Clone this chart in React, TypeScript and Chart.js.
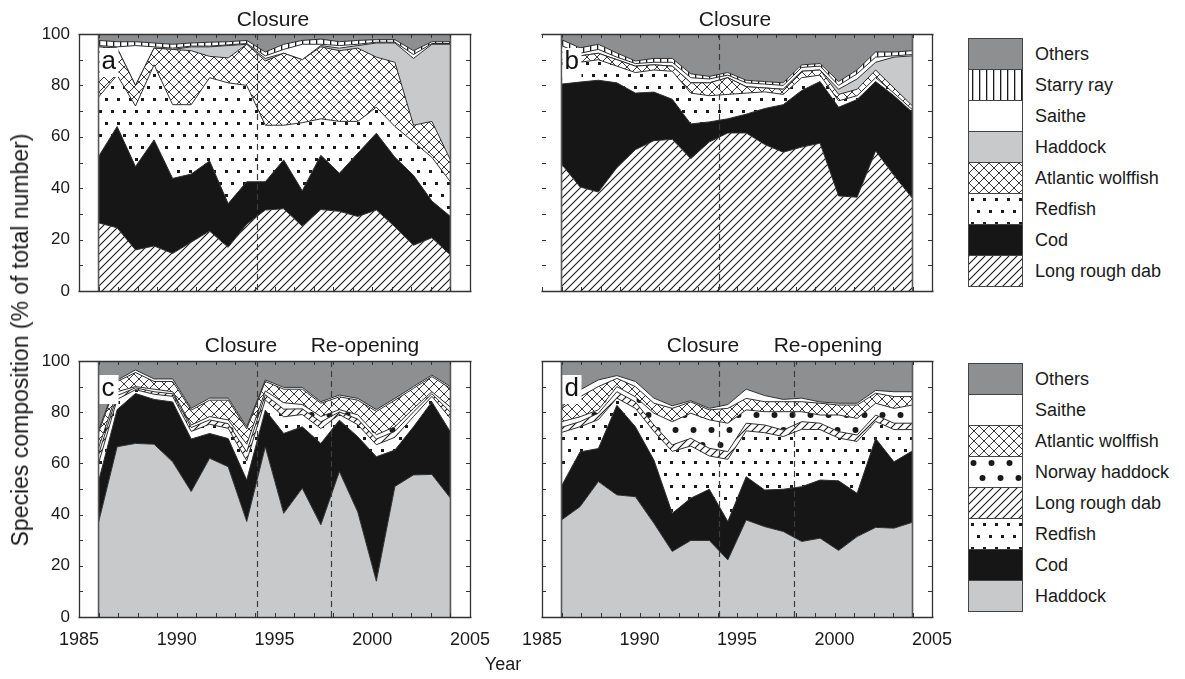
import React, { useEffect, useRef } from "react";
import { Chart, registerables } from "chart.js";

Chart.register(...registerables);

const FONT = "'Liberation Sans', Arial, Helvetica, sans-serif";

// Survey positions on the year axis, shared by all four panels
const surveyYears = [
  1986.0, 1986.95, 1987.89, 1988.84, 1989.79, 1990.74, 1991.68, 1992.63, 1993.58, 1994.53,
  1995.47, 1996.42, 1997.37, 1998.32, 1999.26, 2000.21, 2001.16, 2002.11, 2003.05, 2004.0,
];

const closureYear = 1994.1;
const reopeningYear = 1997.9;

const yTickValues = [0, 20, 40, 60, 80, 100];
const xTickValues = [1985, 1990, 1995, 2000, 2005];

// ---- Panel a (% of total number) ----
const aLongRoughDab = [26.5, 24.6, 16, 17.5, 14.6, 19, 23.3, 17, 26, 31.5, 32, 25.2, 31.7, 31, 29, 31.5, 25, 17.8, 20.7, 14];
const aCod = [25.8, 39.4, 32.4, 41.3, 29.2, 26.5, 27.3, 17, 16.5, 11, 19, 13.8, 21.1, 14.8, 24.6, 29.9, 27, 27.2, 14.3, 15];
const aRedfish = [23.2, 20, 23.6, 29.2, 28.7, 27, 32.4, 47, 37.5, 22, 13.5, 26.5, 14.2, 20.2, 12.4, 10.1, 12, 13, 17, 13.5];
const aWolffish = [19.5, 10.5, 8, 6.5, 21.5, 21, 8.3, 9.7, 16, 25, 28, 24.5, 28, 27.5, 28.5, 19.5, 25, 6.5, 14, 8.5];
const aHaddock = [0, 0, 0, 0, 0, 1.5, 3.7, 4.8, 0, 1, 0, 0, 0.5, 1, 1, 5.5, 7.5, 26, 30, 45];
const aSaithe = [0.5, 0.5, 15.5, 0.5, 0.5, 0.3, 0.3, 0.3, 0.3, 1, 1.5, 6, 0.5, 1, 0.5, 0.3, 0.3, 1.5, 0.3, 0.3];
const aStarryRay = [2, 2, 1.5, 1.5, 1.5, 1.2, 1.5, 1.2, 1.2, 1.5, 2, 1.5, 2, 1.5, 1.5, 1, 1, 1.5, 0.7, 0.7];
const aOthers = [2.5, 3, 3, 3.5, 4, 3.5, 3.2, 3, 2.5, 7, 4, 2.5, 2, 3, 2.5, 2.2, 2.2, 6.5, 3, 3];

// ---- Panel b ----
const bLongRoughDab = [49.4, 40.5, 38.5, 48, 55, 58.5, 59, 51.5, 58, 61.5, 61.5, 57, 54, 56, 57.5, 37, 36.5, 54.5, 45, 36];
const bCod = [31.1, 40.8, 43.5, 33, 22, 18.9, 15.6, 13.5, 7.8, 5.5, 7.3, 14, 18.5, 22, 24, 34.5, 38, 27, 31, 33.5];
const bRedfish = [9.5, 7.7, 8, 6.5, 8, 8.6, 10.9, 12, 10.2, 9.5, 8.2, 6.5, 4, 5, 2.5, 2.5, 1.5, 1.5, 1, 1];
const bWolffish = [3, 2.5, 2.5, 2.5, 2.5, 2, 2, 4, 5, 6.5, 2.5, 1.5, 2, 2.5, 2, 2.5, 2.5, 3, 2, 1.5];
const bHaddock = [0, 0, 0, 0, 0, 0, 0, 0, 0, 0, 0, 0, 0, 0, 0, 2, 4, 3, 12, 19.5];
const bSaithe = [2.5, 1, 1.5, 1, 1, 1, 1.5, 2, 1.5, 1, 1.5, 1.5, 1.5, 1.5, 1.5, 1.5, 2, 2, 0.5, 0.5];
const bStarryRay = [2.3, 2.1, 2, 1.6, 1, 1.5, 1.5, 1.5, 1, 1, 1, 1, 1, 1, 1, 1.5, 1.5, 2, 1.5, 1.5];
const bOthers = [2.2, 5.4, 4, 7.4, 10.5, 9.5, 9.5, 15.5, 16.5, 15, 18, 18.5, 19, 12, 11.5, 18.5, 14, 7, 7, 6.5];

// ---- Panel c ----
const cHaddock = [37, 66.5, 67.8, 67.5, 60.6, 49, 62, 58.7, 37.3, 66.5, 40.5, 50.3, 36, 56.8, 41, 14, 51, 55.5, 55.7, 46.4];
const cCod = [16, 14.5, 19.5, 17.5, 23.4, 20.5, 9.7, 11, 16.2, 14.3, 31.2, 24, 31.8, 20.1, 29.4, 48.6, 14.2, 18.8, 28.3, 25.9];
const cRedfish = [7, 4, 1.5, 2, 2.2, 3, 3.6, 4, 7.5, 4, 6.5, 4.8, 5.8, 2.2, 4.7, 4.7, 5, 4, 2.2, 5.3];
const cLongRoughDab = [3.5, 1.5, 0.7, 1, 1, 1.5, 1.7, 1.8, 3.5, 2, 3, 2.2, 2.6, 1, 2.2, 2.2, 2.3, 1.8, 1, 2.4];
const cNorwayHaddock = [2.5, 1.5, 0.5, 1, 0.8, 1, 1.3, 1.5, 3, 1.5, 2.5, 1.7, 2.1, 0.9, 1.7, 1.7, 1.8, 1.4, 0.8, 2];
const cWolffish = [6, 4, 5.5, 3, 4, 5.8, 6.4, 7.7, 6, 3.7, 5.3, 6, 5.2, 5, 5.7, 9.1, 10.4, 7.8, 5.9, 7.3];
const cSaithe = [1, 0.5, 1, 1, 1, 0.7, 0.8, 0.8, 0.8, 0.6, 0.7, 0.7, 0.6, 0.7, 0.7, 0.7, 0.7, 0.7, 0.6, 0.7];
const cOthers = [27, 7.5, 3.5, 7, 7, 18.5, 14.5, 14.5, 25.7, 7.4, 10.3, 10.3, 15.9, 13.3, 14.6, 19, 14.6, 10, 5.5, 10];

// ---- Panel d ----
const dHaddock = [37.9, 43.1, 52.9, 47.7, 47, 36.6, 25.6, 29.9, 29.9, 22.3, 37.9, 35.3, 33.4, 29.5, 30.8, 26, 31.4, 35, 34.7, 37];
const dCod = [13.3, 21.4, 12.9, 35, 27.3, 24.7, 14.9, 16.5, 20, 15, 16.9, 14.3, 16.5, 21.4, 22.7, 27.2, 16.9, 34.7, 25.9, 27.9];
const dRedfish = [20.9, 9.8, 11.3, 2.8, 7.2, 11.2, 24.2, 20.4, 13, 24.3, 17.9, 22.4, 20.6, 22.4, 19.7, 16.7, 20.3, 6.7, 12.6, 8.3];
const dLongRoughDab = [2, 2, 2.5, 2.5, 2.5, 2.5, 2.5, 3, 3, 3, 3, 3, 2.5, 3, 2.5, 2.5, 2.5, 2.5, 2.5, 2.5];
const dNorwayHaddock = [2.2, 1.9, 1.3, 2, 2, 4.6, 9.1, 9.8, 11.1, 11.1, 5.2, 5.2, 7.2, 3.9, 3.2, 6.5, 6.5, 4.6, 5.8, 7.1];
const dWolffish = [5.2, 7.8, 9.1, 3.2, 4, 3.9, 5.2, 4.4, 3.9, 5.8, 4.5, 3.9, 3.9, 3.9, 4.6, 3.9, 5.2, 3.9, 4.6, 3.3];
const dSaithe = [0.5, 2.7, 2.6, 1.1, 2, 2, 1, 0.5, 0.6, 1.5, 3.6, 2.4, 0.9, 1.4, 0.5, 0.7, 0.7, 1.1, 1.9, 1.9];
const dOthers = [18, 11.3, 7.4, 5.7, 8, 14.5, 17.5, 15.5, 18.5, 17, 11, 13.5, 15, 14.5, 16, 16.5, 16.5, 11.5, 12, 12];

// Legend order, top to bottom
const legendTop = ["Others", "Starry ray", "Saithe", "Haddock", "Atlantic wolffish", "Redfish", "Cod", "Long rough dab"];
const legendBottom = ["Others", "Saithe", "Atlantic wolffish", "Norway haddock", "Long rough dab", "Redfish", "Cod", "Haddock"];

type Layer = { name: string; values: number[] };
type PanelSpec = {
  letter: string;
  left: number;
  top: number;
  width: number;
  height: number;
  layers: Layer[];
  yLabels: boolean;
  xLabels: boolean;
  leftFrame: boolean;
  events: number[];
};

const PAD = { left: 60, top: 12, right: 24, bottom: 40 };

const panels: PanelSpec[] = [
  {
    letter: "a", left: 79, top: 34, width: 391, height: 257, yLabels: true, xLabels: false, leftFrame: true,
    events: [closureYear],
    layers: [
      { name: "Long rough dab", values: aLongRoughDab },
      { name: "Cod", values: aCod },
      { name: "Redfish", values: aRedfish },
      { name: "Atlantic wolffish", values: aWolffish },
      { name: "Haddock", values: aHaddock },
      { name: "Saithe", values: aSaithe },
      { name: "Starry ray", values: aStarryRay },
      { name: "Others", values: aOthers },
    ],
  },
  {
    letter: "b", left: 542, top: 34, width: 390, height: 257, yLabels: false, xLabels: false, leftFrame: false,
    events: [closureYear],
    layers: [
      { name: "Long rough dab", values: bLongRoughDab },
      { name: "Cod", values: bCod },
      { name: "Redfish", values: bRedfish },
      { name: "Atlantic wolffish", values: bWolffish },
      { name: "Haddock", values: bHaddock },
      { name: "Saithe", values: bSaithe },
      { name: "Starry ray", values: bStarryRay },
      { name: "Others", values: bOthers },
    ],
  },
  {
    letter: "c", left: 79, top: 361, width: 391, height: 256, yLabels: true, xLabels: true, leftFrame: true,
    events: [closureYear, reopeningYear],
    layers: [
      { name: "Haddock", values: cHaddock },
      { name: "Cod", values: cCod },
      { name: "Redfish", values: cRedfish },
      { name: "Long rough dab", values: cLongRoughDab },
      { name: "Norway haddock", values: cNorwayHaddock },
      { name: "Atlantic wolffish", values: cWolffish },
      { name: "Saithe", values: cSaithe },
      { name: "Others", values: cOthers },
    ],
  },
  {
    letter: "d", left: 542, top: 361, width: 390, height: 256, yLabels: false, xLabels: true, leftFrame: true,
    events: [closureYear, reopeningYear],
    layers: [
      { name: "Haddock", values: dHaddock },
      { name: "Cod", values: dCod },
      { name: "Redfish", values: dRedfish },
      { name: "Long rough dab", values: dLongRoughDab },
      { name: "Norway haddock", values: dNorwayHaddock },
      { name: "Atlantic wolffish", values: dWolffish },
      { name: "Saithe", values: dSaithe },
      { name: "Others", values: dOthers },
    ],
  },
];

// ---- Fill styles (solid greys and monochrome patterns) ----
function tile(w: number, h: number, draw: (g: CanvasRenderingContext2D) => void): CanvasPattern {
  const c = document.createElement("canvas");
  c.width = w;
  c.height = h;
  const g = c.getContext("2d")!;
  g.fillStyle = "#ffffff";
  g.fillRect(0, 0, w, h);
  draw(g);
  return g.createPattern(c, "repeat")!;
}

const fillCache: Record<string, string | CanvasPattern> = {};

function buildFill(name: string): string | CanvasPattern {
  if (fillCache[name]) return fillCache[name];
  let f: string | CanvasPattern = "#ffffff";
  switch (name) {
    case "Others":
      f = "#8e8f91";
      break;
    case "Saithe":
      f = "#ffffff";
      break;
    case "Haddock":
      f = "#c8c9cb";
      break;
    case "Cod":
      f = "#161616";
      break;
    case "Long rough dab":
      f = tile(8, 8, (g) => {
        g.strokeStyle = "#1a1a1a";
        g.lineWidth = 1.1;
        g.beginPath();
        g.moveTo(-1, 9); g.lineTo(9, -1);
        g.moveTo(-1, 1); g.lineTo(1, -1);
        g.moveTo(7, 9); g.lineTo(9, 7);
        g.stroke();
      });
      break;
    case "Atlantic wolffish":
      f = tile(10, 10, (g) => {
        g.strokeStyle = "#3a3a3a";
        g.lineWidth = 1;
        g.beginPath();
        g.moveTo(0, 0); g.lineTo(10, 10);
        g.moveTo(0, 10); g.lineTo(10, 0);
        g.stroke();
      });
      break;
    case "Redfish":
      f = tile(12, 24, (g) => {
        g.fillStyle = "#1a1a1a";
        g.fillRect(2, 4, 3, 3);
        g.fillRect(8, 16, 3, 3);
      });
      break;
    case "Norway haddock":
      f = tile(18, 30, (g) => {
        g.fillStyle = "#1a1a1a";
        g.beginPath();
        g.arc(4.5, 6, 3, 0, Math.PI * 2);
        g.arc(13.5, 21, 3, 0, Math.PI * 2);
        g.fill();
      });
      break;
    case "Starry ray":
      f = tile(7, 4, (g) => {
        g.fillStyle = "#1a1a1a";
        g.fillRect(3, 0, 1.3, 4);
      });
      break;
  }
  fillCache[name] = f;
  return f;
}

// ---- Frame, inward ticks, edge lines, event lines and panel letter ----
function decorations(spec: PanelSpec) {
  return {
    id: "decor" + spec.letter,
    afterDatasetsDraw(chart: any) {
      const { ctx, chartArea: a, scales } = chart;
      const xs = scales.x;
      const ys = scales.y;
      const seg = (x1: number, y1: number, x2: number, y2: number) => {
        ctx.beginPath();
        ctx.moveTo(x1, y1);
        ctx.lineTo(x2, y2);
        ctx.stroke();
      };
      const r = (v: number) => Math.round(v) + 0.5;
      ctx.save();

      // outer edges of the stacked areas
      ctx.strokeStyle = "#585858";
      ctx.lineWidth = 1.6;
      for (const yr of [surveyYears[0], surveyYears[surveyYears.length - 1]]) {
        const px = xs.getPixelForValue(yr);
        seg(px, a.top, px, a.bottom);
      }

      // management events
      ctx.strokeStyle = "#3c3c3c";
      ctx.lineWidth = 1.2;
      ctx.setLineDash([6, 4]);
      for (const ev of spec.events) {
        const px = r(xs.getPixelForValue(ev));
        seg(px, a.top, px, a.bottom);
      }
      ctx.setLineDash([]);

      // inward tick marks
      ctx.strokeStyle = "#333333";
      ctx.lineWidth = 1;
      for (let v = 0; v <= 100; v += 10) {
        const py = r(ys.getPixelForValue(v));
        seg(a.left, py, a.left + 4, py);
        seg(a.right - 4, py, a.right, py);
      }
      for (let yr = 1985; yr <= 2005; yr++) {
        const px = r(xs.getPixelForValue(yr));
        seg(px, a.top, px, a.top + 4);
        seg(px, a.bottom - 4, px, a.bottom);
      }

      // frame
      ctx.strokeStyle = "#333333";
      ctx.lineWidth = 1.3;
      const L = r(a.left), R = r(a.right), T = r(a.top), B = r(a.bottom);
      seg(L - 1, T, R + 1, T);
      seg(L - 1, B, R + 1, B);
      seg(R, T, R, B);
      if (spec.leftFrame) seg(L, T, L, B);

      // panel letter
      const bx = xs.getPixelForValue(surveyYears[0]);
      ctx.fillStyle = "#ffffff";
      ctx.fillRect(bx + 1, a.top + 14, 19, 29);
      ctx.fillStyle = "#111111";
      ctx.font = `26px ${FONT}`;
      ctx.textAlign = "left";
      ctx.textBaseline = "alphabetic";
      ctx.fillText(spec.letter, bx + 3, a.top + 35);
      ctx.restore();
    },
  };
}

// keeps the plot rectangle at a fixed place inside each canvas
function pinScale(s: any, size: { width?: number; height?: number }) {
  if (size.width !== undefined) s.width = size.width;
  if (size.height !== undefined) s.height = size.height;
  s.paddingTop = 0;
  s.paddingBottom = 0;
  s.paddingLeft = 0;
  s.paddingRight = 0;
}

function Panel({ spec }: { spec: PanelSpec }) {
  const ref = useRef<HTMLCanvasElement>(null);
  const cw = spec.width + PAD.left + PAD.right;
  const ch = spec.height + PAD.top + PAD.bottom;

  useEffect(() => {
    const canvas = ref.current!;
    const chart = new Chart(canvas, {
      type: "line",
      data: {
        datasets: spec.layers.map((layer, i) => ({
          label: layer.name,
          data: layer.values.map((v, j) => ({ x: surveyYears[j], y: v })),
          backgroundColor: buildFill(layer.name) as any,
          borderColor: "#2e2e2e",
          borderWidth: 1,
          pointRadius: 0,
          tension: 0,
          fill: i === 0 ? "origin" : "-1",
        })),
      },
      options: {
        responsive: false,
        animation: false,
        events: [],
        layout: { padding: { top: PAD.top, right: PAD.right, bottom: 0, left: 0 } },
        plugins: { legend: { display: false }, tooltip: { enabled: false } },
        scales: {
          x: {
            type: "linear",
            min: 1985,
            max: 2005,
            grid: { display: false, drawTicks: false },
            border: { display: false },
            afterBuildTicks: (s: any) => {
              s.ticks = xTickValues.map((v) => ({ value: v }));
            },
            afterFit: (s: any) => pinScale(s, { height: PAD.bottom }),
            ticks: {
              display: spec.xLabels,
              autoSkip: false,
              maxRotation: 0,
              padding: 12,
              color: "#1a1a1a",
              font: { family: FONT, size: 18 },
              callback: (v: any) => String(v),
            },
          },
          y: {
            type: "linear",
            stacked: true,
            min: 0,
            max: 100,
            grid: { display: false, drawTicks: false },
            border: { display: false },
            afterBuildTicks: (s: any) => {
              s.ticks = yTickValues.map((v) => ({ value: v }));
            },
            afterFit: (s: any) => pinScale(s, { width: PAD.left }),
            ticks: {
              display: spec.yLabels,
              padding: 9,
              color: "#1a1a1a",
              font: { family: FONT, size: 17 },
              callback: (v: any) => String(v),
            },
          },
        },
      },
      plugins: [decorations(spec)],
    } as any);
    return () => chart.destroy();
  }, [spec]);

  return (
    <canvas
      ref={ref}
      width={cw}
      height={ch}
      style={{
        position: "absolute",
        left: spec.left - PAD.left,
        top: spec.top - PAD.top,
        width: cw,
        height: ch,
      }}
    />
  );
}

function Swatch({ name }: { name: string }) {
  const ref = useRef<HTMLCanvasElement>(null);
  useEffect(() => {
    const c = ref.current!;
    const g = c.getContext("2d")!;
    g.fillStyle = buildFill(name) as any;
    g.fillRect(0, 0, c.width, c.height);
  }, [name]);
  return <canvas ref={ref} width={53} height={30} style={{ display: "block" }} />;
}

function Legend({ items, left, top }: { items: string[]; left: number; top: number }) {
  return (
    <>
      <div
        style={{
          position: "absolute",
          left,
          top,
          width: 53,
          border: "1px solid #444",
          background: "#444",
        }}
      >
        {items.map((name, i) => (
          <div key={name} style={{ marginTop: i === 0 ? 0 : 1 }}>
            <Swatch name={name} />
          </div>
        ))}
      </div>
      {items.map((name, i) => (
        <div
          key={"t" + name}
          style={{
            position: "absolute",
            left: left + 67,
            top: top + 1 + i * 31 + 15 - 11,
            fontSize: 18,
            lineHeight: "22px",
            whiteSpace: "nowrap",
          }}
        >
          {name}
        </div>
      ))}
    </>
  );
}

function Caption({ text, cx, top }: { text: string; cx: number; top: number }) {
  return (
    <div
      style={{
        position: "absolute",
        left: cx,
        top,
        transform: "translateX(-50%)",
        fontSize: 21,
        lineHeight: "21px",
        whiteSpace: "nowrap",
      }}
    >
      {text}
    </div>
  );
}

export default function App() {
  return (
    <div
      style={{
        position: "absolute",
        left: 0,
        top: 0,
        width: 1185,
        height: 679,
        background: "#ffffff",
        fontFamily: FONT,
        color: "#1a1a1a",
        overflow: "hidden",
      }}
    >
      {panels.map((p) => (
        <Panel key={p.letter} spec={p} />
      ))}

      <Caption text="Closure" cx={273} top={8} />
      <Caption text="Closure" cx={735} top={8} />
      <Caption text="Closure" cx={241} top={334} />
      <Caption text="Re-opening" cx={365} top={334} />
      <Caption text="Closure" cx={703} top={334} />
      <Caption text="Re-opening" cx={828} top={334} />

      <div
        style={{
          position: "absolute",
          left: 20,
          top: 340,
          transform: "translate(-50%, -50%) rotate(-90deg)",
          fontSize: 23,
          lineHeight: "24px",
          whiteSpace: "nowrap",
        }}
      >
        Species composition (% of total number)
      </div>
      <div
        style={{
          position: "absolute",
          left: 503,
          top: 654,
          transform: "translateX(-50%)",
          fontSize: 18,
          lineHeight: "20px",
        }}
      >
        Year
      </div>

      <Legend items={legendTop} left={968} top={38} />
      <Legend items={legendBottom} left={968} top={363} />
    </div>
  );
}
